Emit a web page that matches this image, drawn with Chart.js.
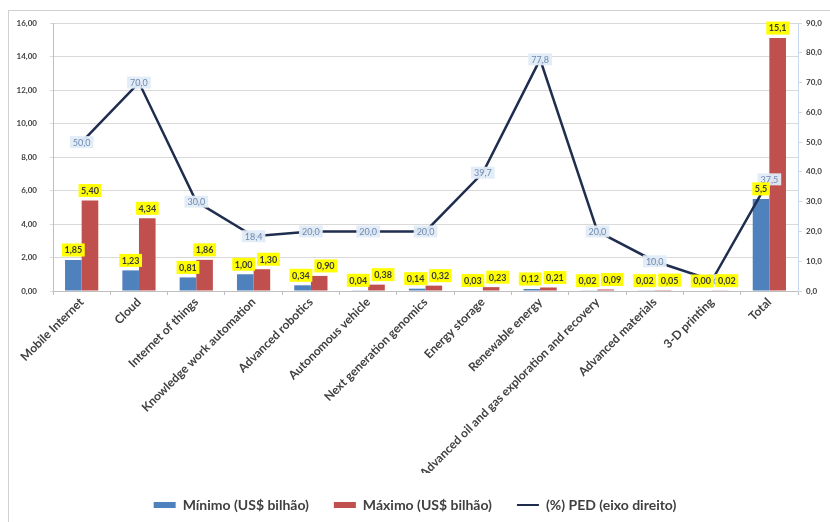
<!DOCTYPE html>
<html>
<head>
<meta charset="utf-8">
<script src="https://cdn.jsdelivr.net/npm/chart.js@4.4.1/dist/chart.umd.min.js"></script>
<style>
  html, body { margin: 0; padding: 0; background: #fff; }
  #wrap { width: 830px; height: 522px; }
</style>
</head>
<body>
<div id="wrap"><canvas id="chart" width="830" height="522"></canvas></div>
<script>
// categories
const categories = ['Mobile Internet', 'Cloud', 'Internet of things', 'Knowledge work automation',
  'Advanced robotics', 'Autonomous vehicle', 'Next generation genomics', 'Energy storage',
  'Renewable energy', 'Advanced oil and gas exploration and recovery', 'Advanced materials',
  '3-D printing', 'Total'];

// series values
const minimo = [1.85, 1.23, 0.81, 1.00, 0.34, 0.04, 0.14, 0.03, 0.12, 0.02, 0.02, 0.00, 5.5];
const maximo = [5.40, 4.34, 1.86, 1.30, 0.90, 0.38, 0.32, 0.23, 0.21, 0.09, 0.05, 0.02, 15.1];
const ped = [50.0, 70.0, 30.0, 18.4, 20.0, 20.0, 20.0, 39.7, 77.8, 20.0, 10.0, 3.6, 37.5];

// tick labels
const leftTicks = [0, 2, 4, 6, 8, 10, 12, 14, 16];
const rightTicks = [0, 10, 20, 30, 40, 50, 60, 70, 80, 90];

const seriesNames = ['Mínimo (US$ bilhão)', 'Máximo (US$ bilhão)', '(%) PED (eixo direito)'];

const FONT = 'Lato';

function br(v, d) {
  return v.toFixed(d).replace('.', ',');
}

// Background and outer border of the chart
const frame = {
  id: 'frame',
  beforeDraw(chart) {
    const c = chart.ctx;
    c.save();
    c.fillStyle = '#fff';
    c.fillRect(0, 0, chart.width, chart.height);
    c.strokeStyle = '#d0d0d0';
    c.lineWidth = 1;
    c.strokeRect(8.5, 10.5, 1000, 1000);
    c.restore();
  }
};

// Data labels (yellow boxes on bars, light boxes on line)
const valueLabels = {
  id: 'valueLabels',
  afterDatasetsDraw(chart) {
    const c = chart.ctx;
    const last = categories.length - 1;
    c.save();
    c.textAlign = 'center';
    c.textBaseline = 'middle';

    // line labels
    c.font = '9px ' + FONT;
    chart.getDatasetMeta(2).data.forEach((pt, i) => {
      const txt = br(ped[i], 1);
      const w = c.measureText(txt).width + 6;
      const h = 12;
      c.fillStyle = 'rgba(226,236,248,0.95)';
      c.fillRect(pt.x - w / 2, pt.y - h / 2, w, h);
      c.fillStyle = '#6f8ab0';
      c.fillText(txt, pt.x, pt.y + 0.5);
    });

    // bar labels, pushed apart sideways when the two of a category collide
    c.font = 'bold 9px ' + FONT;
    const h = 13;
    const minBars = chart.getDatasetMeta(0).data;
    const maxBars = chart.getDatasetMeta(1).data;
    categories.forEach((cat, i) => {
      const d = i === last ? 1 : 2;
      const a = { txt: br(minimo[i], d), x: minBars[i].x, y: minBars[i].y - 10 };
      const b = { txt: br(maximo[i], d), x: maxBars[i].x, y: maxBars[i].y - 10 };
      a.w = c.measureText(a.txt).width + 5;
      b.w = c.measureText(b.txt).width + 5;
      const overlap = (a.x + a.w / 2 + 2) - (b.x - b.w / 2);
      if (overlap > 0 && Math.abs(a.y - b.y) < h) {
        a.x -= overlap * 0.2;
        b.x += overlap * 0.8;
      }
      [a, b].forEach(l => {
        c.fillStyle = '#ffff00';
        c.fillRect(l.x - l.w / 2, l.y - h / 2, l.w, h);
        c.fillStyle = '#3a3a3a';
        c.fillText(l.txt, l.x, l.y + 0.5);
      });
    });
    c.restore();
  }
};

new Chart(document.getElementById('chart'), {
  type: 'bar',
  data: {
    labels: categories,
    datasets: [
      { label: seriesNames[0], data: minimo, backgroundColor: '#4f81bd', yAxisID: 'y', order: 2,
        categoryPercentage: 0.58, barPercentage: 1.0 },
      { label: seriesNames[1], data: maximo, backgroundColor: '#c0504d', yAxisID: 'y', order: 2,
        categoryPercentage: 0.58, barPercentage: 1.0 },
      { type: 'line', label: seriesNames[2], data: ped, yAxisID: 'y1', order: 1,
        borderColor: '#1f2d4f', backgroundColor: '#1f2d4f', borderWidth: 2.5,
        pointRadius: 0, tension: 0 }
    ]
  },
  options: {
    responsive: false,
    animation: false,
    layout: { padding: { top: 23, left: 0, right: 0, bottom: 0 } },
    plugins: {
      tooltip: { enabled: false },
      legend: {
        position: 'bottom',
        labels: {
          font: { family: FONT, size: 14, weight: 'bold' },
          color: '#404040',
          usePointStyle: true,
          pointStyleWidth: 22,
          boxHeight: 6,
          padding: 25,
          generateLabels(chart) {
            return chart.data.datasets.map((ds, i) => {
              const isLine = ds.type === 'line';
              return {
                text: ds.label,
                fillStyle: isLine ? ds.borderColor : ds.backgroundColor,
                strokeStyle: isLine ? ds.borderColor : ds.backgroundColor,
                lineWidth: isLine ? 2 : 0,
                pointStyle: isLine ? 'line' : 'rect',
                datasetIndex: i,
                fontColor: '#404040'
              };
            });
          }
        }
      }
    },
    scales: {
      x: {
        grid: { drawOnChartArea: false, offset: true, tickLength: 4, color: '#bfbfbf' },
        border: { color: '#bfbfbf' },
        ticks: {
          autoSkip: false, maxRotation: 45, minRotation: 45,
          font: { family: FONT, size: 12, weight: 'bold' }, color: '#404040', padding: 0
        },
        afterFit(scale) { scale.height = 182; }
      },
      y: {
        position: 'left',
        min: leftTicks[0], max: leftTicks[leftTicks.length - 1],
        afterBuildTicks(scale) { scale.ticks = leftTicks.map(v => ({ value: v })); },
        grid: { color: '#d9d9d9', tickLength: 3 },
        border: { color: '#bfbfbf' },
        ticks: {
          font: { family: FONT, size: 8, weight: 'bold' }, color: '#404040', padding: 13,
          callback: v => br(v, 2)
        },
        afterFit(scale) { scale.width = 53; }
      },
      y1: {
        position: 'right',
        min: rightTicks[0], max: rightTicks[rightTicks.length - 1],
        afterBuildTicks(scale) { scale.ticks = rightTicks.map(v => ({ value: v })); },
        grid: { drawOnChartArea: false, tickLength: 4, color: '#c6d9f1' },
        border: { color: '#c6d9f1' },
        ticks: {
          font: { family: FONT, size: 8, weight: 'bold' }, color: '#404040', padding: 4,
          callback: v => br(v, 1)
        },
        afterFit(scale) { scale.width = 32; }
      }
    }
  },
  plugins: [frame, valueLabels]
});
</script>
</body>
</html>
